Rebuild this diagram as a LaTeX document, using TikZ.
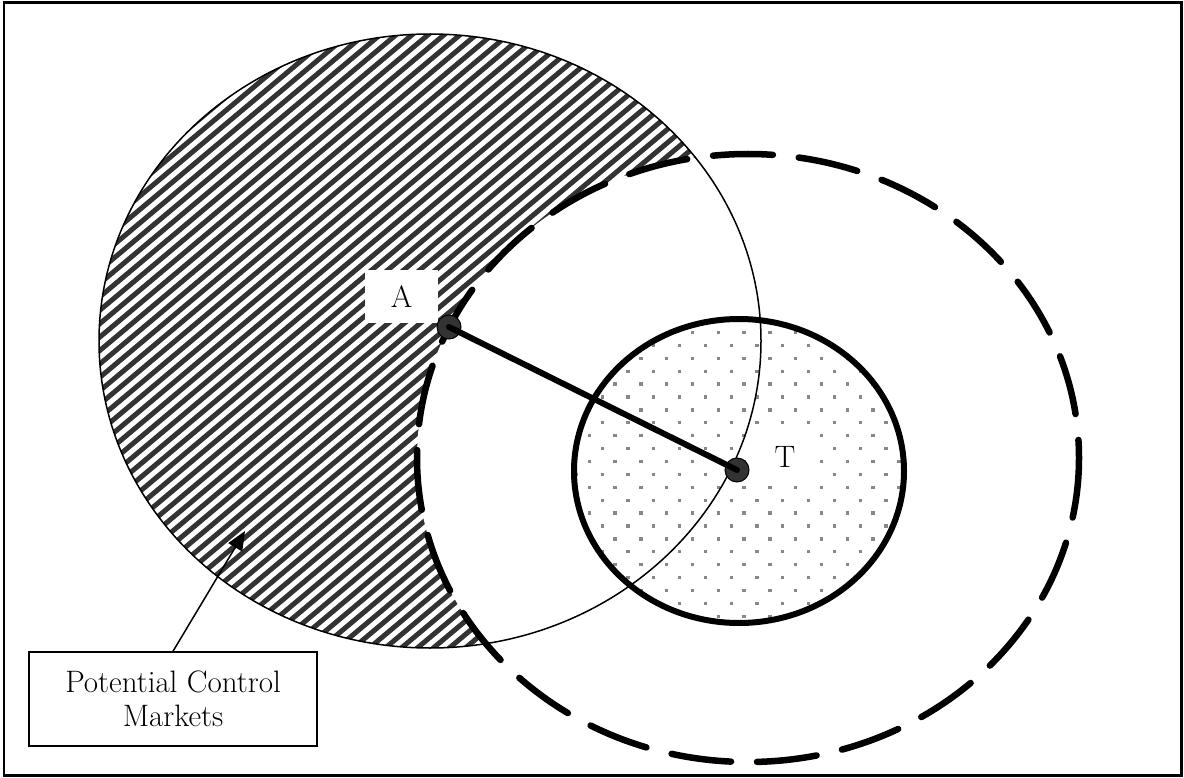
\documentclass[tikz,border=0pt]{standalone}
\usetikzlibrary{arrows.meta}
\definecolor{hatchc}{HTML}{333333}
\definecolor{dotc}{HTML}{888888}
\begin{document}
\begin{tikzpicture}[x=1pt,y=-1pt,
  lbl/.style={font=\fontsize{31}{34}\selectfont, inner sep=0pt},
  market/.style={circle, minimum size=24pt, inner sep=0pt, fill=hatchc, draw=black, line width=1pt},
  thinell/.style={line width=1.5pt},
  dashell/.style={line width=6.5pt, line cap=round, dash pattern=on 60pt off 26pt},
  thickell/.style={line width=6pt},
  hatchline/.style={hatchc, line width=5pt},
  dotsq/.style={fill=dotc}]
\useasboundingbox (0,0) rectangle (1184,778);
\draw[line width=2.5pt] (4,2.5) rectangle (1181.5,775.5);
% hatched area: A's circle minus T's dashed circle
\begin{scope}
  \clip (430,341) ellipse [x radius=331, y radius=307];
  \foreach \k in {-50,...,44} \draw[hatchline] ({99+16*\k},660) -- ++(-40:1000);
\end{scope}
\fill[white] (748,458) ellipse [x radius=331, y radius=304];
% dotted area
\begin{scope}
  \clip (739,471) ellipse [x radius=165, y radius=152];
  \foreach \j in {-8,...,22} \foreach \i in {-4,...,14}
    \fill[dotsq] ({615+25.8*\i+12.9*mod(\j+100,2)-1.6},{384+12.9*\j-1.6}) rectangle ++(3.3,3.3);
\end{scope}
% labels
\node[lbl, fill=white, minimum width=73pt, minimum height=53pt] (Alab) at (401.5,296.5) {A};
\node[lbl, fill=white, minimum width=60pt, minimum height=50pt] (Tlab) at (785,457) {T};
% circles
\draw[thinell] (430,341) ellipse [x radius=331, y radius=307];
\draw[dashell] (748,458) ellipse [x radius=331, y radius=304];
\draw[thickell] (739,471) ellipse [x radius=165, y radius=152];
% points
\node[market] (A) at (449,327) {};
\node[market] (T) at (737,470) {};
\draw[line width=6pt, line cap=round] (A.center) -- (T.center);
% legend box
\node[lbl, draw, line width=1.5pt, minimum width=288pt, minimum height=94pt, align=center] (box) at (173,699) {Potential Control\\Markets};
\coordinate (tip) at (245,531);
\draw[line width=1.5pt, -{Triangle[length=19pt,width=16pt]}] (box.north) -- (tip);
\end{tikzpicture}
\end{document}
